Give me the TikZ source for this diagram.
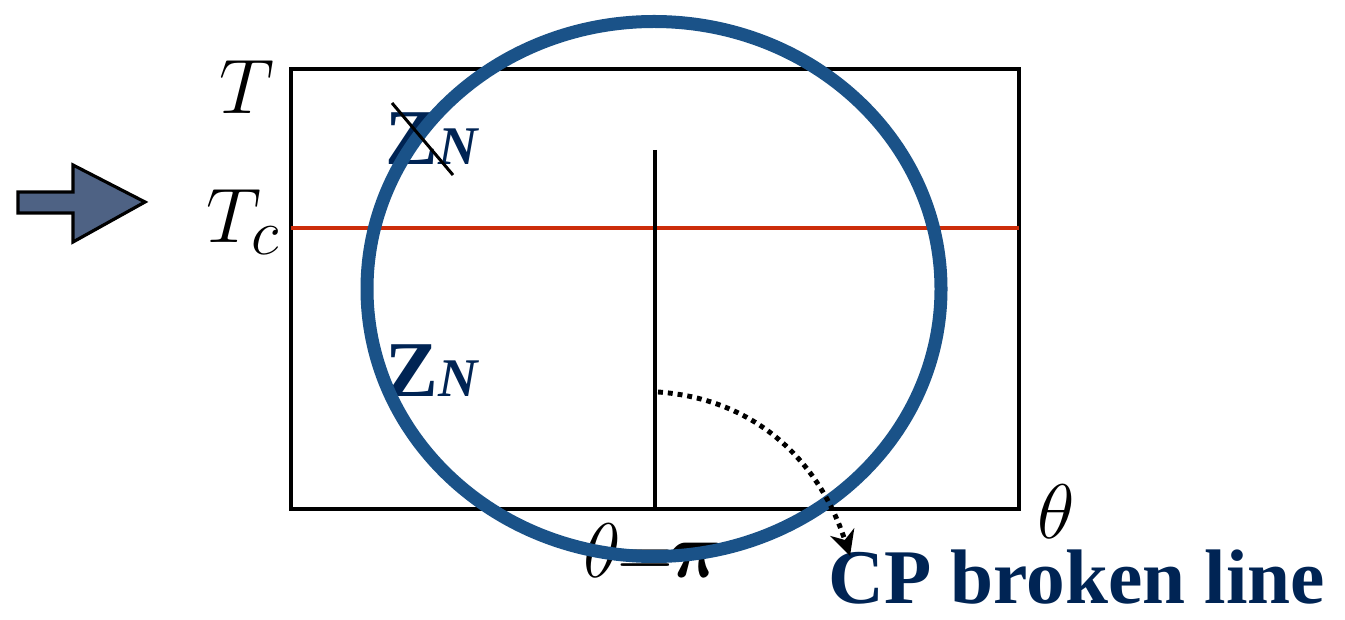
\documentclass[tikz,border=0pt]{standalone}
\usepackage{amsmath}
\usepackage{fontspec}
\newfontfamily\timesfont{Liberation Serif}
\usepackage{tikz}
\usetikzlibrary{
    arrows.meta,
    positioning
}
\definecolor{ringblue}{RGB}{26,82,136}
\definecolor{navytext}{RGB}{0,36,84}
\definecolor{slatefill}{RGB}{78,98,132}
\definecolor{critred}{RGB}{204,45,10}

\begin{document}
\begin{tikzpicture}[
        axis/.style={draw=black, line width=2.3pt},
        mathlabel/.style={inner sep=0pt, font=\Huge, scale=1.77},
        phase/.style={inner sep=0pt, text=navytext, anchor=base west},
        ring/.style={draw=ringblue, line width=7.4pt},
        flow/.style={-{Stealth[length=0.5cm, width=0.5cm]}, line width=2.8pt,
                     dash pattern=on 2.8pt off 2.8pt},
    ]
    \useasboundingbox (0,0) rectangle (26.9,12.38);

    % Phase diagram frame
    \draw[axis] (5.82,2.2) rectangle (20.38,11.0);
    \draw[draw=critred, line width=2.3pt] (5.82,7.82) -- (20.38,7.82);
    \coordinate (top)  at (13.1,9.38);
    \coordinate (base) at (13.1,2.2);
    \draw[axis] (top) -- (base);

    % Axis labels
    \node[mathlabel] (tlab)  at (4.94,10.64) {$T$};
    \node[mathlabel, anchor=base west] (tclab) at (4.12,7.52) {$T_c$};
    \node[mathlabel, text depth=0pt] (thlab) at (21.12,2.14) {$\theta$};
    \node[mathlabel] (pilab) at (13.08,1.36)
        {$\theta\mkern-6mu=\mkern-6mu\boldsymbol{\pi}$};

    % Z_N labels
    \node[phase] (zntop) at (7.7,9.08)
        {\timesfont\fontsize{45}{45}\selectfont\textbf{Z}\fontsize{31}{31}\selectfont\textbf{\textit{N}}};
    \node[phase] (znbot) at (7.7,4.44)
        {\timesfont\fontsize{45}{45}\selectfont\textbf{Z}\fontsize{31}{31}\selectfont\textbf{\textit{N}}};

    % Left block arrow
    \draw[line width=1.8pt, fill=slatefill, line join=miter]
        (0.36,8.54) -- (1.46,8.54) -- (1.46,9.08) -- (2.9,8.34)
        -- (1.46,7.54) -- (1.46,8.12) -- (0.36,8.12) -- cycle;

    % Circle
    \draw[ring] (13.08,6.6) ellipse [x radius=5.74cm, y radius=5.35cm];

    % Strike through the upper Z_N
    \draw[line width=1.7pt] (7.84,10.32) -- (9.06,8.88);

    % CP label and dotted arrow
    \node[inner sep=0pt, anchor=base west, text=navytext, text depth=0pt,
          text height=1.06cm, font=\timesfont\bfseries\fontsize{44}{44}\selectfont]
        (cp) at (16.56,0.32) {CP broken line};
    \coordinate (cpstart) at (13.16,4.54);
    \coordinate (cpend) at (17.0,1.26);
    \draw[flow] (cpstart) to[out=-4, in=108] (cpend);

\end{tikzpicture}
\end{document}
